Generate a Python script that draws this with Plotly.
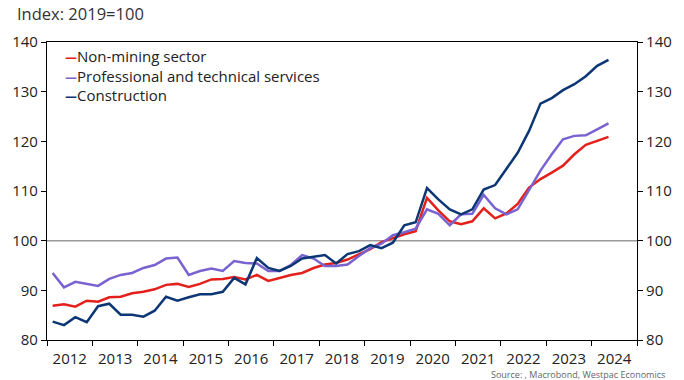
import pandas as pd
import plotly.graph_objects as go

# Quarterly wage index, 2019 = 100
quarters = [str(p) for p in pd.period_range("2012Q1", "2024Q2", freq="Q")]

non_mining = [86.9, 87.2, 86.7, 87.9, 87.7, 88.6, 88.7, 89.4, 89.7, 90.2,
              91.1, 91.3, 90.7, 91.3, 92.2, 92.3, 92.7, 92.2, 93.1, 91.9,
              92.5, 93.1, 93.5, 94.5, 95.2, 95.5, 96.2, 97.2, 98.3, 99.7,
              100.5, 101.3, 101.9, 108.6, 106.1, 103.9, 103.3, 103.9, 106.5, 104.5,
              105.5, 107.4, 110.7, 112.4, 113.7, 115.1, 117.4, 119.3, 120.1, 120.9]

professional = [93.5, 90.6, 91.7, 91.3, 90.9, 92.3, 93.1, 93.5, 94.5, 95.1,
                96.4, 96.6, 93.1, 93.9, 94.4, 93.9, 95.9, 95.5, 95.4, 93.9,
                93.9, 95.1, 97.1, 96.4, 94.9, 94.9, 95.2, 96.9, 98.5, 99.4,
                101.1, 101.7, 102.4, 106.3, 105.4, 103.1, 105.3, 105.4, 109.2, 106.5,
                105.3, 106.3, 110.3, 114.1, 117.4, 120.4, 121.1, 121.2, 122.4, 123.6]

construction = [83.7, 83.0, 84.6, 83.6, 86.8, 87.3, 85.1, 85.1, 84.7, 85.9,
                88.7, 87.9, 88.6, 89.2, 89.2, 89.7, 92.5, 91.2, 96.5, 94.5,
                93.9, 94.9, 96.4, 96.8, 97.1, 95.4, 97.3, 97.9, 99.1, 98.5,
                99.6, 103.1, 103.7, 110.6, 108.3, 106.3, 105.3, 106.3, 110.3, 111.2,
                114.4, 117.7, 122.1, 127.6, 128.7, 130.3, 131.5, 133.1, 135.2, 136.4]

series = [
    ("Non-mining sector", non_mining, "#e3201b"),
    ("Professional and technical services", professional, "#7a62d0"),
    ("Construction", construction, "#0c3774"),
]

y_ticks = [80, 90, 100, 110, 120, 130, 140]

# plot each quarter at its mid-point
periods = pd.PeriodIndex(quarters, freq="Q")
dates = periods.start_time + (periods.end_time - periods.start_time) / 2

FONT = "Open Sans"
TEXT = "#222222"

fig = go.Figure()
for name, vals, color in series:
    fig.add_trace(go.Scatter(x=dates, y=vals, name=name, mode="lines",
                             line=dict(color=color, width=2.5),
                             showlegend=False))

# carrier for the right-hand value axis
fig.add_trace(go.Scatter(x=dates, y=construction, yaxis="y2", mode="lines",
                         line=dict(width=0, color="rgba(0,0,0,0)"),
                         hoverinfo="skip", showlegend=False))

axis_common = dict(range=[80, 140], tickvals=y_ticks, showgrid=False,
                   zeroline=False, showline=True, linecolor="#000000",
                   linewidth=1.2, ticks="outside", ticklen=5,
                   tickcolor="#000000", tickfont=dict(size=15, color=TEXT))

fig.update_layout(
    width=684, height=380,
    margin=dict(l=45, r=45, t=42, b=38),
    paper_bgcolor="white", plot_bgcolor="white",
    font=dict(family=FONT, color=TEXT),
    xaxis=dict(type="date", range=["2012-01-01", "2025-01-01"],
               tick0="2012-01-01", dtick="M12", tickformat="%Y",
               ticklabelmode="period", showgrid=False, zeroline=False,
               showline=True, linecolor="#000000", linewidth=1.2,
               mirror=True, ticks="outside", ticklen=5, tickcolor="#000000",
               tickfont=dict(size=15, color=TEXT)),
    yaxis=dict(side="left", **axis_common),
    yaxis2=dict(side="right", overlaying="y", **axis_common),
    shapes=[dict(type="line", xref="paper", x0=0, x1=1, yref="y", y0=100, y1=100,
                 line=dict(color="#9a9a9a", width=1.5), layer="below")],
)

# key: one block of lines, each led by a dash in the series colour
key_lines = "<br>".join(
    f"<span style='color:{color};font-family:DejaVu Sans;font-size:12px'><b>—</b></span>{name}"
    for name, vals, color in series)

annotations = [
    dict(text="Index: 2019=100", xref="paper", yref="paper", x=-0.055, y=1.0,
         yshift=29, xanchor="left", yanchor="middle", showarrow=False,
         font=dict(size=16.5, color="#333333")),
    dict(text="Source: , Macrobond, Westpac Economics", xref="paper", yref="paper",
         x=1.05, y=0, yshift=-34, xanchor="right", yanchor="middle",
         showarrow=False, font=dict(size=9, color="#666666")),
    dict(text=key_lines, xref="paper", yref="paper", x=0.027, y=1.0, yshift=-2,
         xanchor="left", yanchor="top", align="left", showarrow=False,
         font=dict(size=15, color=TEXT)),
]
fig.update_layout(annotations=annotations)

fig.write_html("out.html")
